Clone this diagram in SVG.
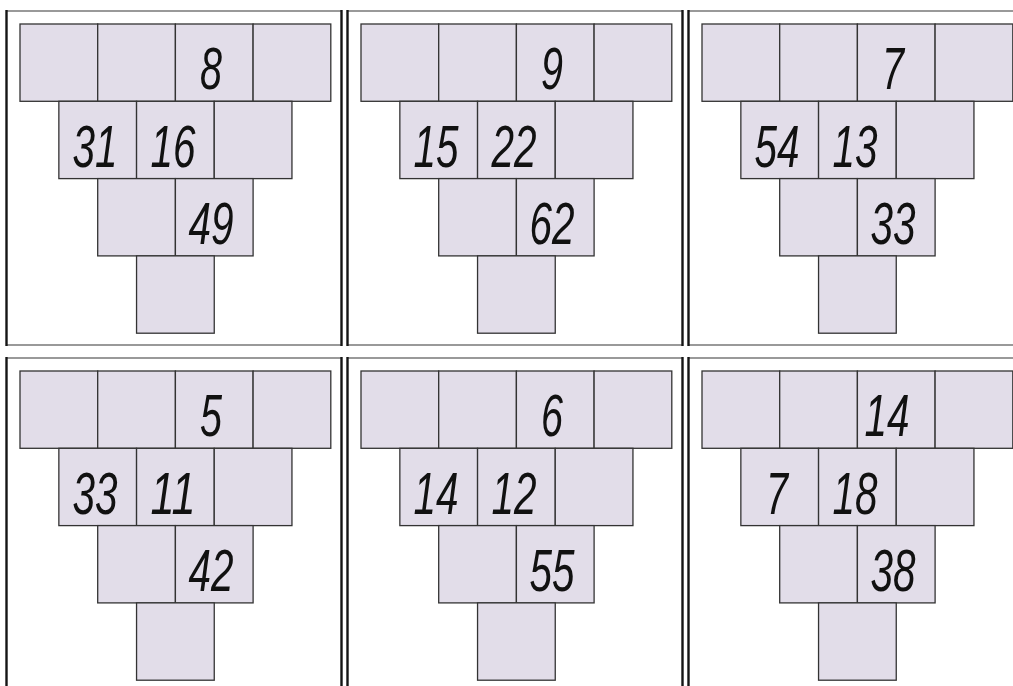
<svg xmlns="http://www.w3.org/2000/svg" xmlns:xlink="http://www.w3.org/1999/xlink" width="1013" height="686" viewBox="0 0 1013 686">
<style>
.c{fill:#e2dde9;stroke:#333;stroke-width:1.3}
.fv{stroke:#151515;stroke-width:2.4;fill:none}
.fh{stroke:#777;stroke-width:1.6;fill:none}
.n{font-family:"Liberation Sans",Arial,sans-serif;font-style:italic;font-size:59px;fill:#111;text-anchor:middle}
</style>
<defs>
<g id="pyr">
<rect class="c" x="20" y="24" width="77.7" height="77.3"/>
<rect class="c" x="97.7" y="24" width="77.7" height="77.3"/>
<rect class="c" x="175.4" y="24" width="77.7" height="77.3"/>
<rect class="c" x="253.1" y="24" width="77.7" height="77.3"/>
<rect class="c" x="58.85" y="101.3" width="77.7" height="77.3"/>
<rect class="c" x="136.55" y="101.3" width="77.7" height="77.3"/>
<rect class="c" x="214.25" y="101.3" width="77.7" height="77.3"/>
<rect class="c" x="97.7" y="178.6" width="77.7" height="77.3"/>
<rect class="c" x="175.4" y="178.6" width="77.7" height="77.3"/>
<rect class="c" x="136.55" y="255.9" width="77.7" height="77.3"/>
</g>
<g id="frame">
<line class="fh" x1="6.5" y1="11" x2="341.5" y2="11"/>
<line class="fh" x1="6.5" y1="345" x2="341.5" y2="345"/>
<line class="fv" x1="6.5" y1="10" x2="6.5" y2="346"/>
<line class="fv" x1="341.5" y1="10" x2="341.5" y2="346"/>
</g>
</defs>
<rect width="1013" height="686" fill="#fff"/>
<g id="panel1">
<use href="#frame" xlink:href="#frame"/>
<use href="#pyr" xlink:href="#pyr"/>
<text class="n" x="211" y="89" textLength="22" lengthAdjust="spacingAndGlyphs">8</text>
<text class="n" x="95" y="167" textLength="45" lengthAdjust="spacingAndGlyphs">31</text>
<text class="n" x="173" y="167" textLength="45" lengthAdjust="spacingAndGlyphs">16</text>
<text class="n" x="211" y="244" textLength="45" lengthAdjust="spacingAndGlyphs">49</text>
</g>
<g id="panel2" transform="translate(341,0)">
<use href="#frame" xlink:href="#frame"/>
<use href="#pyr" xlink:href="#pyr"/>
<text class="n" x="211" y="89" textLength="22" lengthAdjust="spacingAndGlyphs">9</text>
<text class="n" x="95" y="167" textLength="45" lengthAdjust="spacingAndGlyphs">15</text>
<text class="n" x="173" y="167" textLength="45" lengthAdjust="spacingAndGlyphs">22</text>
<text class="n" x="211" y="244" textLength="45" lengthAdjust="spacingAndGlyphs">62</text>
</g>
<g id="panel3" transform="translate(682,0)">
<use href="#frame" xlink:href="#frame"/>
<use href="#pyr" xlink:href="#pyr"/>
<text class="n" x="211" y="89" textLength="22" lengthAdjust="spacingAndGlyphs">7</text>
<text class="n" x="95" y="167" textLength="45" lengthAdjust="spacingAndGlyphs">54</text>
<text class="n" x="173" y="167" textLength="45" lengthAdjust="spacingAndGlyphs">13</text>
<text class="n" x="211" y="244" textLength="45" lengthAdjust="spacingAndGlyphs">33</text>
</g>
<g id="panel4" transform="translate(0,347)">
<use href="#frame" xlink:href="#frame"/>
<use href="#pyr" xlink:href="#pyr"/>
<text class="n" x="211" y="89" textLength="22" lengthAdjust="spacingAndGlyphs">5</text>
<text class="n" x="95" y="167" textLength="45" lengthAdjust="spacingAndGlyphs">33</text>
<text class="n" x="173" y="167" textLength="45" lengthAdjust="spacingAndGlyphs">11</text>
<text class="n" x="211" y="244" textLength="45" lengthAdjust="spacingAndGlyphs">42</text>
</g>
<g id="panel5" transform="translate(341,347)">
<use href="#frame" xlink:href="#frame"/>
<use href="#pyr" xlink:href="#pyr"/>
<text class="n" x="211" y="89" textLength="22" lengthAdjust="spacingAndGlyphs">6</text>
<text class="n" x="95" y="167" textLength="45" lengthAdjust="spacingAndGlyphs">14</text>
<text class="n" x="173" y="167" textLength="45" lengthAdjust="spacingAndGlyphs">12</text>
<text class="n" x="211" y="244" textLength="45" lengthAdjust="spacingAndGlyphs">55</text>
</g>
<g id="panel6" transform="translate(682,347)">
<use href="#frame" xlink:href="#frame"/>
<use href="#pyr" xlink:href="#pyr"/>
<text class="n" x="205" y="89" textLength="45" lengthAdjust="spacingAndGlyphs">14</text>
<text class="n" x="95" y="167" textLength="22" lengthAdjust="spacingAndGlyphs">7</text>
<text class="n" x="173" y="167" textLength="45" lengthAdjust="spacingAndGlyphs">18</text>
<text class="n" x="211" y="244" textLength="45" lengthAdjust="spacingAndGlyphs">38</text>
</g>
</svg>
